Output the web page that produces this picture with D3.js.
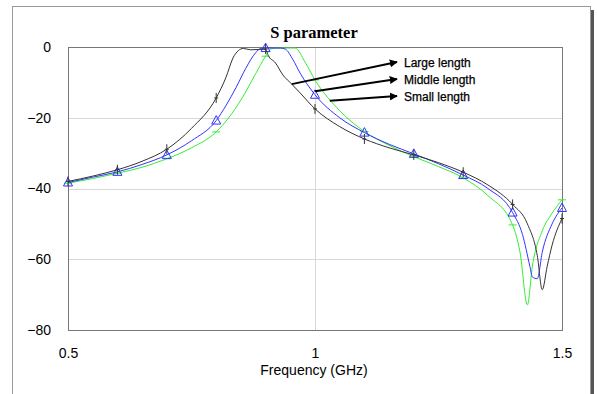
<!DOCTYPE html>
<html>
<head>
<meta charset="utf-8">
<script src="https://cdn.jsdelivr.net/npm/d3@7"></script>
<style>
  body { margin: 0; background: #fff; }
  svg { display: block; }
</style>
</head>
<body>
<div id="chart"></div>
<script>
// frequency (GHz) / S parameter (dB)
const freqLarge = [0.5, 0.55, 0.6, 0.65, 0.7, 0.75, 0.8, 0.82, 0.834, 0.845, 0.855, 0.87, 0.9, 0.905, 0.92, 0.935, 0.953, 0.97, 1.0, 1.05, 1.1, 1.15, 1.2, 1.25, 1.3, 1.35, 1.4, 1.43, 1.45, 1.46, 1.47, 1.48, 1.5];
const dbLarge   = [-38, -36.5, -34.7, -32.3, -28.9, -23, -14.4, -8.5, -3.1, -1, -0.4, -0.8, -0.6, -2.3, -4.5, -7.9, -10.5, -13, -17.5, -22.5, -26, -28.5, -30.5, -32.7, -35.4, -39, -44.5, -50, -59, -68.6, -62, -56, -48.5];

const freqMiddle = [0.5, 0.55, 0.6, 0.65, 0.7, 0.75, 0.8, 0.82, 0.84, 0.86, 0.88, 0.89, 0.9, 0.93, 0.94, 0.955, 0.97, 1.0, 1.05, 1.1, 1.15, 1.2, 1.25, 1.3, 1.35, 1.4, 1.42, 1.435, 1.44, 1.45, 1.46, 1.48, 1.5];
const dbMiddle   = [-38.3, -36.8, -35.3, -33.2, -30.5, -26.5, -20.8, -16.5, -11.5, -6, -1.6, -0.4, -0.3, -0.3, -0.6, -3.5, -7.4, -13.5, -20, -24.2, -27.5, -30.2, -33, -36.2, -40, -46.8, -53, -62, -65, -65.5, -58, -50, -45.5];

const freqSmall = [0.5, 0.55, 0.6, 0.65, 0.7, 0.75, 0.8, 0.85, 0.88, 0.9, 0.91, 0.92, 0.96, 0.98, 1.0, 1.05, 1.1, 1.15, 1.2, 1.25, 1.3, 1.35, 1.4, 1.415, 1.43, 1.44, 1.46, 1.48, 1.5];
const dbSmall   = [-38.5, -37.2, -35.7, -34, -31.6, -28.5, -24, -15, -7.5, -2.6, -0.6, -0.3, -0.3, -4.3, -9.3, -18, -23.9, -27.8, -31, -33.8, -37, -42, -50.3, -58, -72.9, -62, -52, -47, -43.2];

const markerFreqs = [0.5, 0.6, 0.7, 0.8, 0.9, 1.0, 1.1, 1.2, 1.3, 1.4, 1.5];
const xTicks = [0.5, 1, 1.5];
const yTicks = [0, -20, -40, -60, -80];
const seriesNames = ["Large length", "Middle length", "Small length"];

const W = 597, H = 394;
const margin = {top: 47, right: 35, bottom: 64, left: 68};
const width = W - margin.left - margin.right,
      height = H - margin.top - margin.bottom;

const svg = d3.select("#chart").append("svg")
  .attr("width", W)
  .attr("height", H);

// outer frame with the dark shadow on the right
svg.append("rect")
  .attr("x", 591).attr("y", 10)
  .attr("width", 3).attr("height", H)
  .attr("fill", "#555");
svg.append("rect")
  .attr("x", 12.5).attr("y", 6.5)
  .attr("width", 578).attr("height", H)
  .attr("fill", "#fff")
  .attr("stroke", "#999");

const g = svg.append("g")
  .attr("transform", "translate(" + margin.left + "," + margin.top + ")");

const x = d3.scaleLinear().domain([0.5, 1.5]).range([0, width]);
const y = d3.scaleLinear().domain([-80, 0]).range([height, 0]);

// grid
g.selectAll(".hgrid")
  .data(yTicks.filter(d => d > -80 && d < 0))
  .enter().append("line")
  .attr("x1", 0).attr("x2", width)
  .attr("y1", d => Math.round(y(d)) + 0.5).attr("y2", d => Math.round(y(d)) + 0.5)
  .attr("stroke", "#d8d8d8");
g.append("line")
  .attr("x1", Math.round(x(1)) + 0.5).attr("x2", Math.round(x(1)) + 0.5)
  .attr("y1", 0).attr("y2", height)
  .attr("stroke", "#d8d8d8");

// plot frame
g.append("rect")
  .attr("x", 0.5).attr("y", 0.5)
  .attr("width", width).attr("height", height)
  .attr("fill", "none")
  .attr("stroke", "#777");

// axes (labels only, the frame is the axis line)
const xAxis = g.append("g")
  .attr("transform", "translate(0," + height + ")")
  .call(d3.axisBottom(x).tickValues(xTicks).tickSize(0).tickPadding(18).tickFormat(d3.format("")));
const yAxis = g.append("g")
  .call(d3.axisLeft(y).tickValues(yTicks).tickSize(0).tickPadding(17));
[xAxis, yAxis].forEach(a => {
  a.select(".domain").remove();
  a.selectAll("text")
    .attr("font-family", "Liberation Sans, Arial, sans-serif")
    .attr("font-size", 14)
    .attr("fill", "#000");
});

// title and x label
svg.append("text")
  .attr("x", 314).attr("y", 38)
  .attr("text-anchor", "middle")
  .attr("font-family", "Liberation Serif, Times New Roman, serif")
  .attr("font-weight", "bold")
  .attr("font-size", 16.5)
  .text("S parameter");
svg.append("text")
  .attr("x", 314).attr("y", 375)
  .attr("text-anchor", "middle")
  .attr("font-family", "Liberation Sans, Arial, sans-serif")
  .attr("font-size", 14)
  .text("Frequency (GHz)");

const series = [
  {name: seriesNames[0], f: freqLarge, v: dbLarge, color: "#333", marker: "plus"},
  {name: seriesNames[1], f: freqMiddle, v: dbMiddle, color: "#3333ff", marker: "tri"},
  {name: seriesNames[2], f: freqSmall, v: dbSmall, color: "#33ee33", marker: "dash"}
];

const line = d3.line()
  .x(d => x(d[0]))
  .y(d => y(d[1]))
  .curve(d3.curveMonotoneX);

const plot = g.append("g");
series.slice().reverse().forEach(s => {
  const pts = s.f.map((f, i) => [f, s.v[i]]);
  plot.append("path")
    .datum(pts)
    .attr("fill", "none")
    .attr("stroke", s.color)
    .attr("stroke-width", 1)
    .attr("d", line);

  const mk = pts.filter(p => markerFreqs.some(m => Math.abs(m - p[0]) < 1e-9));
  const mg = plot.selectAll(null).data(mk).enter().append("g")
    .attr("transform", d => "translate(" + x(d[0]) + "," + y(d[1]) + ")");
  if (s.marker === "tri") {
    mg.append("path")
      .attr("d", "M0,-5L4.5,3.5L-4.5,3.5Z")
      .attr("fill", "none")
      .attr("stroke", s.color);
  } else if (s.marker === "plus") {
    mg.append("path")
      .attr("d", "M0,-5V5M-2,0H2")
      .attr("stroke", s.color);
  } else {
    mg.append("path")
      .attr("d", "M-4,0H4")
      .attr("stroke", s.color);
  }
});

// annotation arrows
svg.append("defs").append("marker")
  .attr("id", "arrow")
  .attr("viewBox", "0 0 10 10")
  .attr("refX", 9).attr("refY", 5)
  .attr("markerWidth", 4).attr("markerHeight", 4)
  .attr("orient", "auto")
  .append("path").attr("d", "M0,0L10,5L0,10Z").attr("fill", "#000");

const arrows = [
  {from: [0.953, -10.5], to: [397, 62]},
  {from: [1.0, -12.5], to: [397, 79]},
  {from: [1.03, -15.2], to: [397, 96]}
];
arrows.forEach((a, i) => {
  svg.append("line")
    .attr("x1", margin.left + x(a.from[0])).attr("y1", margin.top + y(a.from[1]))
    .attr("x2", a.to[0]).attr("y2", a.to[1])
    .attr("stroke", "#000")
    .attr("stroke-width", 2)
    .attr("marker-end", "url(#arrow)");
  svg.append("text")
    .attr("x", 404).attr("y", a.to[1] + 4.5)
    .attr("font-family", "Liberation Sans, Arial, sans-serif")
    .attr("font-size", 12)
    .attr("stroke", "#000").attr("stroke-width", 0.25)
    .text(seriesNames[i]);
});
</script>
</body>
</html>
